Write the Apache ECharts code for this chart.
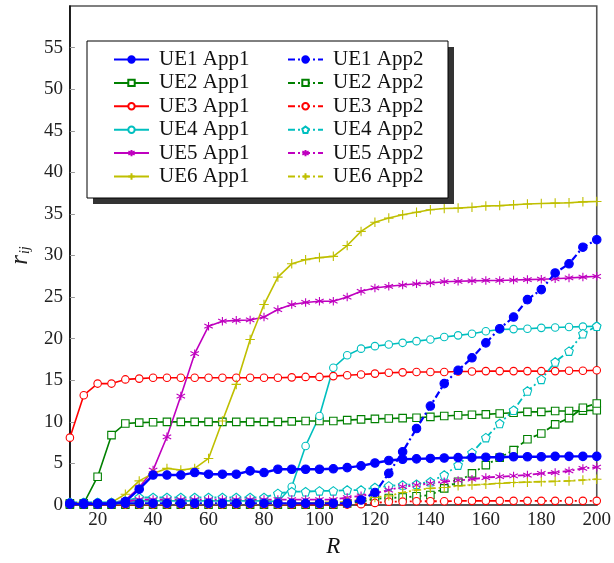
<!DOCTYPE html>
<html>
<head>
<meta charset="utf-8">
<script src="https://cdn.jsdelivr.net/npm/echarts@6/dist/echarts.min.js"></script>
<style>
html,body{margin:0;padding:0;background:#fff;}
#chart{width:614px;height:563px;}
</style>
</head>
<body>
<div id="chart"></div>
<script>
// ---- data ----
var R = [10,15,20,25,30,35,40,45,50,55,60,65,70,75,80,85,90,95,100,105,110,115,120,125,130,135,140,145,150,155,160,165,170,175,180,185,190,195,200];
var xTicks = [20,40,60,80,100,120,140,160,180,200];
var yTicks = [0,5,10,15,20,25,30,35,40,45,50,55];

var UE1_App1 = [0.1,0.1,0.1,0.1,0.4,1.9,3.6,3.6,3.6,3.9,3.7,3.7,3.7,4.1,3.9,4.3,4.3,4.3,4.3,4.35,4.5,4.7,5.05,5.35,5.5,5.55,5.6,5.65,5.7,5.7,5.75,5.75,5.8,5.8,5.8,5.85,5.85,5.85,5.85];
var UE1_App2 = [0.2,0.2,0.2,0.2,0.2,0.2,0.2,0.2,0.2,0.2,0.2,0.2,0.2,0.2,0.2,0.2,0.2,0.2,0.2,0.2,0.2,0.6,1.5,3.8,6.4,9.2,11.9,14.6,16.2,17.7,19.5,21.2,22.6,24.7,25.9,27.9,29.0,31.0,31.9];
var UE2_App1 = [0.2,0.2,3.4,8.4,9.8,9.9,9.95,10,10,10,10,10,10,10,10,10,10.05,10.1,10.1,10.1,10.2,10.3,10.35,10.4,10.45,10.5,10.6,10.7,10.8,10.85,10.9,11.0,11.1,11.2,11.2,11.3,11.3,11.35,11.4];
var UE2_App2 = [0.05,0.05,0.05,0.05,0.05,0.05,0.05,0.05,0.05,0.05,0.05,0.05,0.05,0.05,0.05,0.05,0.05,0.05,0.05,0.05,0.2,0.4,0.75,0.85,0.9,1.05,1.2,2.0,2.8,3.8,4.8,5.7,6.6,7.9,8.6,9.7,10.45,11.7,12.2];
var UE3_App1 = [8.1,13.2,14.6,14.6,15.1,15.2,15.3,15.3,15.3,15.3,15.3,15.3,15.3,15.3,15.3,15.3,15.35,15.4,15.4,15.5,15.6,15.7,15.8,15.9,15.95,16.0,16.0,16.0,16.05,16.05,16.1,16.1,16.1,16.1,16.1,16.1,16.15,16.15,16.2];
var UE3_App2 = [0.05,0.05,0.05,0.05,0.05,0.05,0.05,0.05,0.05,0.05,0.05,0.05,0.05,0.05,0.05,0.05,0.05,0.05,0.05,0.05,0.05,0.1,0.25,0.4,0.4,0.45,0.45,0.45,0.5,0.5,0.5,0.5,0.5,0.5,0.5,0.5,0.5,0.5,0.5];
var UE4_App1 = [0.3,0.3,0.3,0.3,0.4,0.5,0.5,0.5,0.5,0.5,0.5,0.5,0.5,0.5,0.5,0.4,2.2,7.1,10.7,16.5,18.0,18.8,19.1,19.3,19.5,19.7,19.9,20.2,20.4,20.6,20.9,21.1,21.15,21.2,21.3,21.35,21.4,21.45,21.5];
var UE4_App2 = [0.3,0.3,0.3,0.3,0.5,0.9,0.9,0.9,0.9,0.9,0.9,0.9,0.9,0.9,0.9,1.4,1.6,1.6,1.7,1.7,1.8,1.8,2.1,2.3,2.4,2.5,2.8,3.6,4.8,6.3,8.1,9.8,11.4,13.7,15.1,17.2,18.5,20.6,21.5];
var UE5_App1 = [0.2,0.2,0.2,0.2,0.6,2.1,4.2,8.2,13.1,18.2,21.5,22.1,22.2,22.25,22.6,23.5,24.1,24.35,24.5,24.5,25.0,25.7,26.1,26.3,26.45,26.6,26.7,26.85,26.9,26.95,27.0,27.0,27.05,27.1,27.15,27.2,27.3,27.4,27.5];
var UE5_App2 = [0.2,0.2,0.2,0.2,0.4,0.65,0.65,0.65,0.65,0.65,0.65,0.65,0.65,0.65,0.65,0.65,0.65,0.65,0.65,0.65,0.9,1.1,1.4,1.8,2.2,2.4,2.6,2.8,2.95,3.1,3.3,3.4,3.5,3.6,3.8,3.9,4.1,4.4,4.55];
var UE6_App1 = [0.2,0.2,0.2,0.3,1.3,2.9,3.8,4.4,4.2,4.4,5.6,10.1,14.5,19.9,24.1,27.4,29.0,29.5,29.75,29.9,31.2,32.9,34.0,34.5,34.9,35.2,35.5,35.65,35.7,35.8,35.95,36.0,36.1,36.2,36.25,36.3,36.35,36.45,36.5];
var UE6_App2 = [0.1,0.1,0.1,0.1,0.1,0.1,0.1,0.1,0.1,0.1,0.1,0.1,0.1,0.1,0.1,0.1,0.2,0.25,0.3,0.3,0.4,0.7,0.9,1.1,1.5,1.8,2.0,2.1,2.3,2.4,2.5,2.6,2.7,2.75,2.8,2.85,2.9,3.0,3.1];

var namesApp1 = ['UE1 App1','UE2 App1','UE3 App1','UE4 App1','UE5 App1','UE6 App1'];
var namesApp2 = ['UE1 App2','UE2 App2','UE3 App2','UE4 App2','UE5 App2','UE6 App2'];

// ---- styles ----
var SERIF = '"Liberation Serif","DejaVu Serif",serif';
var C = {blue:'#0000ff', green:'#008000', red:'#ff0000', cyan:'#00bfbf', magenta:'#bf00bf', olive:'#bfbf00'};
var PLUS = 'path://M0,-5L0,5M-5,0L5,0';
var STAR = 'path://M0,-5L0,5M-4.33,-2.5L4.33,2.5M-4.33,2.5L4.33,-2.5';
var PENT = 'path://M0,-5L4.76,-1.55L2.94,4.05L-2.94,4.05L-4.76,-1.55Z';
var DASH = [7,3,2,3];

function pairs(arr){ return R.map(function(x,i){ return [x, arr[i]]; }); }

function mk(name, data, color, symbol, opts){
  opts = opts || {};
  var dashed = opts.dashed;
  var filled = opts.filled;
  return {
    name: name, type: 'line', data: pairs(data),
    symbol: symbol, symbolSize: opts.size || 7.5,
    showSymbol: true,
    lineStyle: {color: color, width: opts.lw || (dashed ? 1.8 : 1.6), type: dashed ? DASH : 'solid'},
    itemStyle: {color: (filled || opts.stroked) ? color : '#fff', borderColor: color, borderWidth: 1.1},
    emphasis: {disabled: true},
    animation: false,
    z: opts.z || 2
  };
}

var series = [
  mk('UE1 App1', UE1_App1, C.blue, 'circle', {filled:true, size:8.5, lw:2.4, z:3}),
  mk('UE2 App1', UE2_App1, C.green, 'rect', {size:7.5}),
  mk('UE3 App1', UE3_App1, C.red, 'circle', {size:7.5}),
  mk('UE4 App1', UE4_App1, C.cyan, 'circle', {size:7.5}),
  mk('UE5 App1', UE5_App1, C.magenta, STAR, {size:8.5, stroked:true}),
  mk('UE6 App1', UE6_App1, C.olive, PLUS, {size:9.5, stroked:true}),
  mk('UE1 App2', UE1_App2, C.blue, 'circle', {filled:true, size:8.5, dashed:true, lw:2.2, z:3}),
  mk('UE2 App2', UE2_App2, C.green, 'rect', {size:7.5, dashed:true}),
  mk('UE3 App2', UE3_App2, C.red, 'circle', {size:7.5, dashed:true}),
  mk('UE4 App2', UE4_App2, C.cyan, PENT, {size:8.5, dashed:true}),
  mk('UE5 App2', UE5_App2, C.magenta, STAR, {size:8.5, dashed:true, stroked:true}),
  mk('UE6 App2', UE6_App2, C.olive, PLUS, {size:9.5, dashed:true, stroked:true})
];

function legend(names, left){
  return {
    data: names, left: left, top: 44, orient: 'vertical',
    itemWidth: 35, itemHeight: 8, itemGap: 2.4,
    selectedMode: false, z: 10,
    textStyle: {fontFamily: SERIF, fontSize: 21, color: '#111', lineHeight: 20, padding: [0,0,0,5]}
  };
}

var chart = echarts.init(document.getElementById('chart'), null, {renderer: 'canvas'});
chart.setOption({
  backgroundColor: '#fff',
  animation: false,
  grid: {left: 57, right: 15, top: 6, bottom: 46, show: true, borderColor: '#555', borderWidth: 1.6},
  xAxis: {
    type: 'value', min: 10, max: 200,
    name: 'R', nameLocation: 'middle', nameGap: 30,
    nameTextStyle: {fontFamily: SERIF, fontStyle: 'italic', fontSize: 23, color: '#111'},
    axisLine: {show: true, onZero: false, lineStyle: {color: '#555', width: 2}},
    axisTick: {show: true, inside: true, length: 5, lineStyle: {color: '#999'}, customValues: xTicks},
    axisLabel: {fontFamily: SERIF, fontSize: 19, color: '#222', margin: 6, customValues: xTicks},
    splitLine: {show: false}
  },
  yAxis: {
    type: 'value', min: 0, max: 60,
    name: '{a|r}{b|ij}', nameLocation: 'middle', nameGap: 25, nameRotate: 90,
    nameTextStyle: {rich: {
      a: {fontFamily: SERIF, fontStyle: 'italic', fontSize: 25, color: '#222'},
      b: {fontFamily: SERIF, fontStyle: 'italic', fontSize: 14, color: '#222', padding: [10,0,0,1]}
    }},
    axisLine: {show: true, lineStyle: {color: '#000', width: 1.5}},
    axisTick: {show: true, inside: true, length: 5, lineStyle: {color: '#999'}, customValues: yTicks},
    axisLabel: {fontFamily: SERIF, fontSize: 19, color: '#222', margin: 7, customValues: yTicks},
    splitLine: {show: false}
  },
  legend: [legend(namesApp1, 108), legend(namesApp2, 282)],
  graphic: [
    {type: 'rect', z: 8, shape: {x: 93, y: 47, width: 361, height: 157}, style: {fill: '#333'}},
    {type: 'rect', z: 9, shape: {x: 87, y: 41, width: 361, height: 157}, style: {fill: '#fff', stroke: '#000', lineWidth: 1}}
  ],
  series: series
});
</script>
</body>
</html>
